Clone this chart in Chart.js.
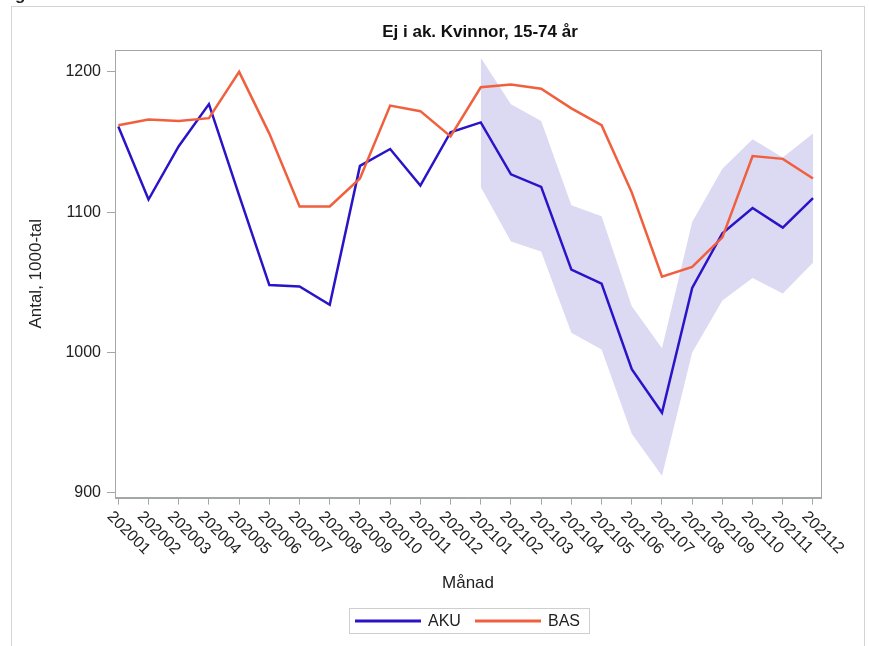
<!DOCTYPE html>
<html>
<head>
<meta charset="utf-8">
<script src="https://cdn.jsdelivr.net/npm/chart.js@4.4.1/dist/chart.umd.min.js"></script>
<style>
  html, body { margin: 0; padding: 0; background: #fff; overflow: hidden; }
  #wrap { position: relative; width: 869px; height: 646px; }
</style>
</head>
<body>
<div id="wrap"><canvas id="chart" width="869" height="646"></canvas></div>
<script>
const months = ['202001', '202002', '202003', '202004', '202005', '202006', '202007', '202008',
  '202009', '202010', '202011', '202012', '202101', '202102', '202103', '202104', '202105',
  '202106', '202107', '202108', '202109', '202110', '202111', '202112'];
const aku = [1161, 1109, 1147, 1177, 1112, 1048, 1047, 1034, 1133, 1145, 1119, 1157,
  1164, 1127, 1118, 1059, 1049, 988, 957, 1046, 1085, 1103, 1089, 1110];
const bas = [1162, 1166, 1165, 1167, 1200, 1156, 1104, 1104, 1124, 1176, 1172, 1154,
  1189, 1191, 1188, 1174, 1162, 1114, 1054, 1061, 1082, 1140, 1138, 1124];
// konfidensband for AKU, bara 2021
const akuUpper = [null, null, null, null, null, null, null, null, null, null, null, null,
  1210, 1177, 1165, 1105, 1097, 1033, 1003, 1093, 1131, 1152, 1139, 1156];
const akuLower = [null, null, null, null, null, null, null, null, null, null, null, null,
  1118, 1079, 1072, 1014, 1002, 942, 912, 1000, 1037, 1053, 1042, 1064];
const yTicks = [900, 1000, 1100, 1200];

const FONT = '"Liberation Sans", Arial, sans-serif';
const BLUE = '#2a14c8';
const RED = '#f0603e';
const BAND = '#dcd9f3';
const AXIS = '#a3a7a7';

const pts = arr => arr.map((v, i) => ({ x: i, y: v }));

const framePlugin = {
  id: 'frame',
  beforeDraw(chart) {
    const ctx = chart.ctx;
    ctx.save();
    ctx.strokeStyle = '#d4d4d4';
    ctx.lineWidth = 1;
    ctx.strokeRect(11.5, 6.5, 853, 700);
    ctx.fillStyle = '#222';
    ctx.font = 'bold 17px ' + FONT;
    ctx.textBaseline = 'alphabetic';
    ctx.fillText('g', 15, 0);
    ctx.restore();
  },
  afterDatasetsDraw(chart) {
    const { ctx, chartArea: a } = chart;
    ctx.save();
    ctx.strokeStyle = AXIS;
    ctx.lineWidth = 1;
    ctx.strokeRect(Math.round(a.left) + 0.5, Math.round(a.top) + 0.5,
      Math.round(a.right - a.left), Math.round(a.bottom - a.top));
    ctx.restore();
  },
  afterDraw(chart) {
    const { ctx, chartArea: a } = chart;
    const sx = chart.scales.x;
    ctx.save();
    // titel
    ctx.fillStyle = '#111';
    ctx.font = 'bold 17px ' + FONT;
    ctx.textAlign = 'center';
    ctx.textBaseline = 'middle';
    ctx.fillText('Ej i ak. Kvinnor, 15-74 år', 480, 32);
    // x-etiketter, roterade 45 grader medurs
    ctx.font = '16px ' + FONT;
    ctx.fillStyle = '#222';
    ctx.textAlign = 'left';
    ctx.textBaseline = 'top';
    months.forEach((m, i) => {
      const x = sx.getPixelForValue(i);
      ctx.save();
      ctx.translate(x - 3, a.bottom + 11);
      ctx.rotate(Math.PI / 4);
      ctx.fillText(m, 0, 0);
      ctx.restore();
    });
    // legend
    const lx = 349.5, ly = 608.5, lw = 240, lh = 25;
    ctx.strokeStyle = '#cfcfcf';
    ctx.lineWidth = 1;
    ctx.strokeRect(lx, ly, lw, lh);
    const cy = ly + lh / 2;
    const items = [
      { label: 'AKU', color: BLUE, x0: 355, x1: 421, tx: 428 },
      { label: 'BAS', color: RED, x0: 475, x1: 541, tx: 548 }
    ];
    ctx.font = '16px ' + FONT;
    ctx.textBaseline = 'middle';
    items.forEach(it => {
      ctx.strokeStyle = it.color;
      ctx.lineWidth = 3;
      ctx.beginPath();
      ctx.moveTo(it.x0, cy);
      ctx.lineTo(it.x1, cy);
      ctx.stroke();
      ctx.fillStyle = '#222';
      ctx.fillText(it.label, it.tx, cy + 1);
    });
    ctx.restore();
  }
};

new Chart(document.getElementById('chart').getContext('2d'), {
  type: 'line',
  data: {
    datasets: [
      { label: 'BAS', data: pts(bas), borderColor: RED, borderWidth: 2.5, fill: false },
      { label: 'AKU', data: pts(aku), borderColor: BLUE, borderWidth: 2.5, fill: false },
      { label: 'upper', data: pts(akuUpper), borderWidth: 0, borderColor: 'rgba(0,0,0,0)',
        backgroundColor: BAND, fill: '+1' },
      { label: 'lower', data: pts(akuLower), borderWidth: 0, borderColor: 'rgba(0,0,0,0)',
        fill: false }
    ]
  },
  options: {
    responsive: false,
    animation: false,
    layout: { padding: { left: 26, right: 48, top: 50, bottom: 50 } },
    elements: { point: { radius: 0, hoverRadius: 0 }, line: { tension: 0 } },
    plugins: {
      legend: { display: false },
      tooltip: { enabled: false },
      title: { display: false }
    },
    scales: {
      x: {
        type: 'linear',
        min: -0.11,
        max: 23.265,
        afterBuildTicks: s => { s.ticks = months.map((m, i) => ({ value: i })); },
        ticks: { display: false },
        grid: { drawOnChartArea: false, tickLength: 7, color: AXIS },
        border: { color: AXIS },
        title: {
          display: true, text: 'Månad', color: '#222',
          font: { family: FONT, size: 17 }, padding: { top: 69, bottom: 2 }
        }
      },
      y: {
        min: 896.5,
        max: 1215.6,
        afterBuildTicks: s => { s.ticks = yTicks.map(v => ({ value: v })); },
        afterFit: s => { s.width = 89; },
        ticks: {
          color: '#222', font: { family: FONT, size: 16 }, padding: 6,
          callback: v => String(v)
        },
        grid: { drawOnChartArea: false, tickLength: 8, color: AXIS },
        border: { color: AXIS },
        title: {
          display: true, text: 'Antal, 1000-tal', color: '#222',
          font: { family: FONT, size: 17 }, padding: 0
        }
      }
    }
  },
  plugins: [framePlugin]
});
</script>
</body>
</html>
